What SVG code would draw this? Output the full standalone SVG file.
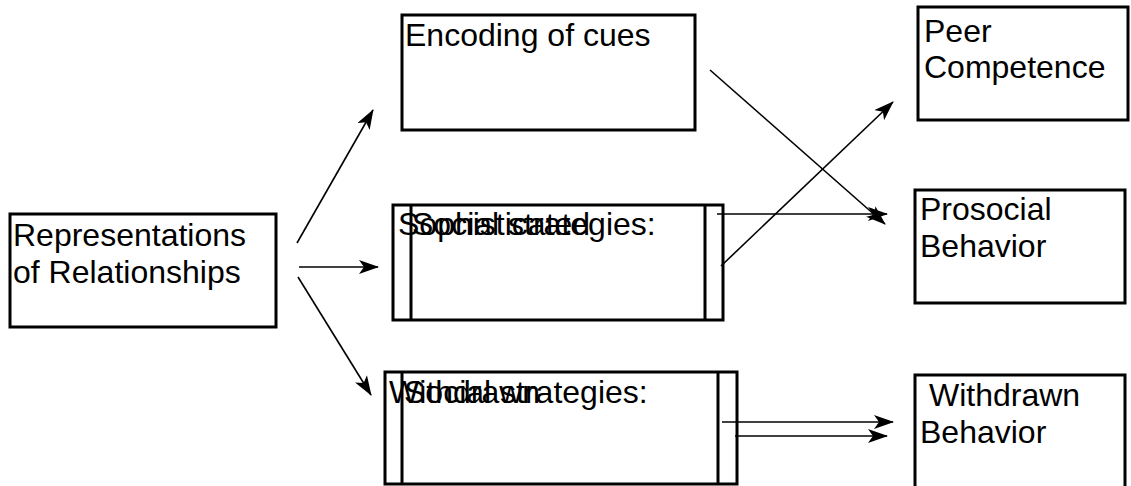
<svg xmlns="http://www.w3.org/2000/svg" width="1131" height="486" viewBox="0 0 1131 486">
<style>
.box{fill:#fff;stroke:#000;stroke-width:3}
.bar{stroke:#000;stroke-width:3}
.t{font-family:"Liberation Sans",Arial,sans-serif;font-size:32px;fill:#000}
.c{stroke:#000;stroke-width:1.6;fill:none;marker-end:url(#ah)}
</style>
<defs>
<marker id="ah" viewBox="0 0 20 14" refX="19" refY="7" markerWidth="20" markerHeight="14" markerUnits="userSpaceOnUse" orient="auto">
<path d="M0,0 L20,7 L0,14 L5,7 z" fill="#000"/>
</marker>
</defs>
<rect width="1131" height="486" fill="#fff"/>
<g id="rep">
<rect class="box" x="10" y="214" width="266" height="113"/>
<text class="t" x="13" y="246">Representations</text>
<text class="t" x="13" y="283">of Relationships</text>
</g>
<g id="encoding">
<rect class="box" x="402" y="15" width="293" height="115"/>
<text class="t" x="405" y="46">Encoding of cues</text>
</g>
<g id="sophisticated">
<rect class="box" x="393" y="205" width="330" height="115"/>
<line class="bar" x1="411" y1="205" x2="411" y2="320"/>
<line class="bar" x1="705" y1="205" x2="705" y2="320"/>
<text class="t" x="398" y="235">Sophisticated</text>
<text class="t" x="412" y="235">Social strategies:</text>
</g>
<g id="withdrawn">
<rect class="box" x="385" y="372" width="352" height="112"/>
<line class="bar" x1="402" y1="372" x2="402" y2="484"/>
<line class="bar" x1="718" y1="372" x2="718" y2="484"/>
<text class="t" x="389" y="403">Withdrawn</text>
<text class="t" x="404" y="403">Social strategies:</text>
</g>
<g id="peer">
<rect class="box" x="918" y="7" width="210" height="113"/>
<text class="t" x="924" y="42">Peer</text>
<text class="t" x="924" y="78">Competence</text>
</g>
<g id="prosocial">
<rect class="box" x="915" y="190" width="210" height="113"/>
<text class="t" x="920" y="220">Prosocial</text>
<text class="t" x="920" y="257">Behavior</text>
</g>
<g id="withdrawnbeh">
<rect class="box" x="915" y="375" width="210" height="130"/>
<text class="t" x="929" y="406">Withdrawn</text>
<text class="t" x="920" y="443">Behavior</text>
</g>
<g id="connectors">
<line class="c" x1="297" y1="243" x2="373" y2="110"/>
<line class="c" x1="299" y1="267" x2="378" y2="267"/>
<line class="c" x1="298" y1="277" x2="371" y2="395"/>
<line class="c" x1="710" y1="70" x2="885" y2="224"/>
<line class="c" x1="721" y1="266" x2="893" y2="102"/>
<line class="c" x1="717" y1="214" x2="887" y2="214"/>
<line class="c" x1="722" y1="422" x2="893" y2="422"/>
<line class="c" x1="735" y1="436" x2="887" y2="436"/>
</g>
</svg>
